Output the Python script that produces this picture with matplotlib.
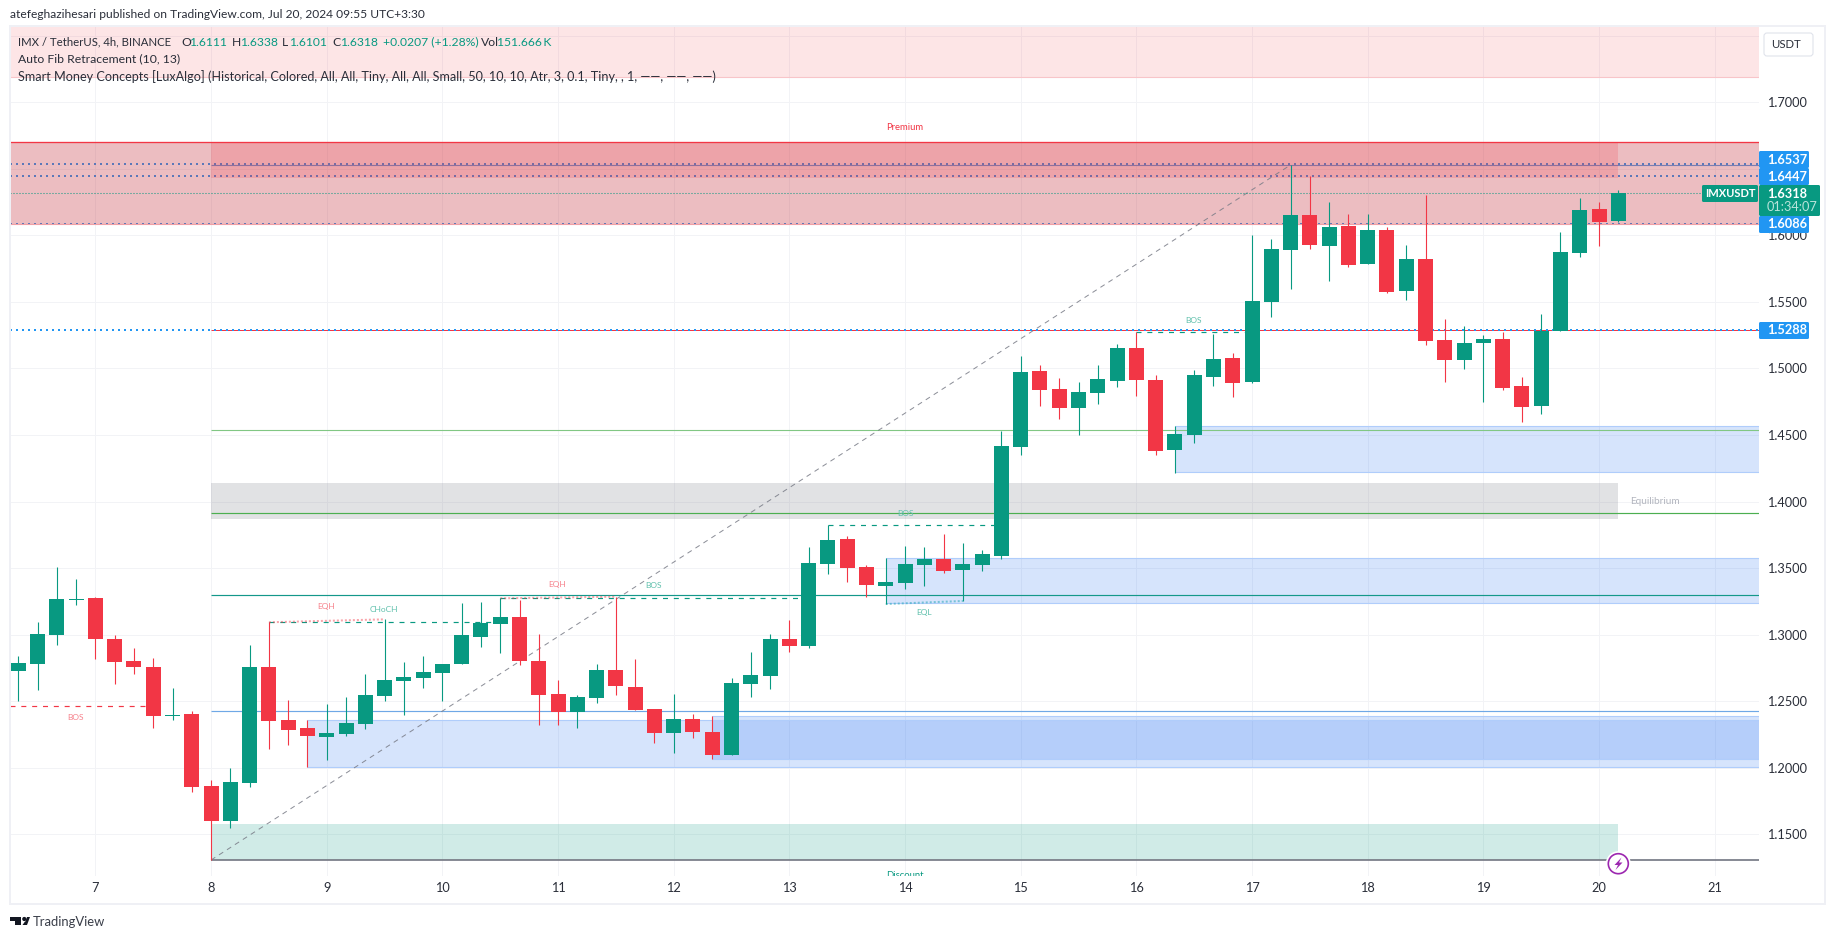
import matplotlib
matplotlib.use("Agg")
import matplotlib.pyplot as plt
from matplotlib.patches import Rectangle, FancyBboxPatch, Polygon, Circle

plt.rcParams['font.family'] = ['Lato', 'DejaVu Sans']
plt.rcParams['lines.scale_dashes'] = False

# ---------- data ----------
opens = [1.2727,1.2779,1.2997,1.3260,1.3275,1.2967,1.2802,1.2757,1.2391,1.2404,1.1863,1.1600,1.1885,1.2757,1.2359,1.2299,1.2231,1.2253,1.2329,1.2539,
         1.2652,1.2674,1.2712,1.2779,1.2982,1.3080,1.3132,1.2802,1.2554,1.2419,1.2524,1.2734,1.2607,1.2441,1.2261,1.2366,1.2268,1.2096,1.2629,1.2689,
         1.2967,1.2915,1.3531,1.3719,1.3508,1.3365,1.3388,1.3523,1.3569,1.3486,1.3524,1.3591,1.4410,1.4981,1.4846,1.4703,1.4816,1.4906,1.5154,1.4914,
         1.4388,1.4500,1.4936,1.5079,1.4899,1.5500,1.5890,1.6153,1.5920,1.6071,1.5785,1.6041,1.5582,1.5823,1.5214,1.5064,1.5192,1.5222,1.4869,1.4718,
         1.5282,1.5868,1.6198,1.6111]
highs = [1.2839,1.3095,1.3508,1.3418,1.3283,1.2997,1.2900,1.2824,1.2599,1.2426,1.1908,1.1998,1.2922,1.3095,1.2509,1.2359,1.2479,1.2531,1.2704,1.3115,
         1.2794,1.2839,1.2779,1.3238,1.3245,1.3273,1.3260,1.3005,1.2659,1.2546,1.2779,1.3285,1.2817,1.2441,1.2554,1.2404,1.2389,1.2674,1.2870,1.3005,
         1.3110,1.3659,1.3824,1.3741,1.3523,1.3576,1.3666,1.3658,1.3756,1.3689,1.3636,1.4530,1.5094,1.5026,1.4929,1.4898,1.5026,1.5184,1.5271,1.4951,
         1.4568,1.4989,1.5259,1.5117,1.6003,1.5973,1.6529,1.6446,1.6251,1.6161,1.6161,1.6063,1.5928,1.6304,1.5372,1.5319,1.5252,1.5274,1.4936,1.5410,
         1.6026,1.6281,1.6251,1.6338]
lows = [1.2501,1.2584,1.2922,1.3223,1.2817,1.2629,1.2704,1.2299,1.2359,1.1818,1.1307,1.1547,1.1855,1.2141,1.2171,1.2006,1.2058,1.2238,1.2291,1.2501,
        1.2396,1.2599,1.2501,1.2779,1.2907,1.2862,1.2772,1.2321,1.2321,1.2299,1.2486,1.2546,1.2434,1.2186,1.2111,1.2223,1.2066,1.2096,1.2531,1.2592,
        1.2870,1.2900,1.3456,1.3396,1.3283,1.3230,1.3343,1.3365,1.3463,1.3253,1.3478,1.3569,1.4350,1.4718,1.4620,1.4500,1.4733,1.4861,1.4793,1.4350,
        1.4215,1.4440,1.4869,1.4786,1.4891,1.5387,1.5597,1.5898,1.5658,1.5763,1.5785,1.5567,1.5515,1.5177,1.4899,1.4996,1.4748,1.4839,1.4598,1.4658,
        1.5282,1.5838,1.5920,1.6101]
closes = [1.2787,1.3005,1.3268,1.3268,1.2967,1.2794,1.2757,1.2389,1.2396,1.1855,1.1600,1.1893,1.2757,1.2351,1.2283,1.2238,1.2261,1.2336,1.2546,1.2659,
          1.2682,1.2719,1.2779,1.2997,1.3087,1.3132,1.2802,1.2546,1.2419,1.2531,1.2734,1.2614,1.2434,1.2261,1.2366,1.2268,1.2096,1.2637,1.2697,1.2967,
          1.2915,1.3539,1.3711,1.3501,1.3373,1.3395,1.3531,1.3568,1.3478,1.3531,1.3606,1.4418,1.4974,1.4838,1.4703,1.4823,1.4921,1.5154,1.4914,1.4380,
          1.4508,1.4951,1.5072,1.4891,1.5507,1.5898,1.6153,1.5928,1.6063,1.5778,1.6041,1.5575,1.5823,1.5207,1.5064,1.5192,1.5222,1.4854,1.4711,1.5282,
          1.5875,1.6191,1.6101,1.6318]

day_labels = [str(d) for d in range(7, 22)]
day_ticks = [4 + 6 * k for k in range(15)]
price_ticks = [1.15, 1.20, 1.25, 1.30, 1.35, 1.40, 1.45, 1.50, 1.55, 1.60, 1.65, 1.70, 1.75]
hidden_ticks = [1.65, 1.75]

# order-block zones: start candle, top, bottom
ob_starts = [15, 36, 45, 60]
ob_tops = [1.2357, 1.2387, 1.3573, 1.4565]
ob_bottoms = [1.2008, 1.2068, 1.3236, 1.4220]

# ---------- layout ----------
W, H = 1835, 939
AL, AR, AT, AB = 10, 1759, 27, 876
X0, DX = 18.3, 19.277
Y115, PXPER = 834.3, 1331.0
def p_of(y):
    return 1.15 + (Y115 - y) / PXPER
def i_of(x):
    return (x - X0) / DX

GREEN, RED, BLUE = '#089981', '#F23645', '#2196F3'
GRID = '#f2f3f6'
BORDER = '#eff0f5'
TXT = '#2a2e39'
px = 0.72

fig = plt.figure(figsize=(W / 100, H / 100), dpi=100, facecolor='white')
ax = fig.add_axes([AL / W, 1 - AB / H, (AR - AL) / W, (AB - AT) / H])
xl, xr = i_of(AL), i_of(AR)
ax.set_xlim(xl, xr)
ax.set_ylim(p_of(AB), p_of(AT))
for s in ax.spines.values():
    s.set_visible(False)
ax.set_axisbelow(True)
ax.grid(True, color=GRID, lw=px, zorder=0)
ax.set_xticks(day_ticks)
ax.set_xticklabels(day_labels)
ax.yaxis.tick_right()
ax.set_yticks(price_ticks)
ax.set_yticklabels(['' if t in hidden_ticks else f'{t:.4f}' for t in price_ticks])
ax.tick_params(length=0, labelsize=9.2, labelcolor=TXT)
ax.tick_params(axis='x', pad=4.5)
ax.tick_params(axis='y', pad=5.6)

def hline(p, a, b, **kw):
    ax.plot([a, b], [p, p], solid_capstyle='butt', **kw)

DOT = (0, (1.44, 2.88))
# lines that sit under the translucent zones
hline(1.6537, xl, xr, color=BLUE, lw=1.44, ls=DOT, zorder=1)
hline(1.6447, xl, xr, color=BLUE, lw=1.44, ls=DOT, zorder=1)
hline(1.6086, xl, xr, color=BLUE, lw=1.44, ls=DOT, zorder=1)
hline(1.6526, 10, xr, color='#4f9fe8', lw=0.8, zorder=1)

def zone(a, b, top, bottom, color, alpha, z=2):
    ax.add_patch(Rectangle((a, bottom), b - a, top - bottom, fc=color, alpha=alpha, lw=0, zorder=z))

zone(xl, xr, p_of(AT), p_of(76.7), RED, 0.13)
hline(p_of(76.7), xl, xr, color='#f8c5c9', lw=0.8, zorder=2)
zone(xl, xr, 1.6700, 1.6085, '#c9424e', 0.35)
zone(10, 83, 1.6700, 1.6433, RED, 0.19)
hline(1.6700, xl, xr, color=RED, lw=0.95, zorder=2.2)
hline(1.6085, xl, xr, color='#f0a0a6', lw=0.8, zorder=1.9)
zone(10, 83, 1.4140, 1.3869, '#787B86', 0.22)
zone(10, 83, 1.1577, 1.1307, GREEN, 0.19)

for s0, t, b in zip(ob_starts, ob_tops, ob_bottoms):
    zone(s0, xr, t, b, '#2771f4', 0.19)
    hline(t, s0, xr, color='#b0cdfb', lw=0.8, zorder=2.1)
    hline(b, s0, xr, color='#b0cdfb', lw=0.8, zorder=2.1)

# structure levels
hline(1.5291, 10, xr, color=RED, lw=0.72, zorder=2.3)
hline(1.5288, xl, xr, color=BLUE, lw=1.44, ls=DOT, zorder=2.35)
hline(1.4535, 10, xr, color='#81c784', lw=0.8, zorder=2.3)
hline(1.3916, 10, xr, color='#4caf50', lw=0.85, zorder=2.3)
hline(1.3296, 10, xr, color='#14988a', lw=0.85, zorder=2.3)
hline(1.2424, 10, xr, color='#6fa8e6', lw=0.85, zorder=2.3)
hline(1.1307, 10, xr, color='#787B86', lw=1.25, zorder=2.3)

DASH = (0, (3.6, 4.2))
hline(1.2462, xl, 7, color=RED, lw=0.85, ls=DASH, zorder=2.4)
hline(1.3093, 13, 25, color=GREEN, lw=0.85, ls=DASH, zorder=2.4)
hline(1.3273, 25, 41, color=GREEN, lw=0.85, ls=DASH, zorder=2.4)
hline(1.3824, 42, 51, color=GREEN, lw=0.85, ls=DASH, zorder=2.4)
hline(1.5271, 58, 64, color=GREEN, lw=0.85, ls=DASH, zorder=2.4)

EQD = (0, (1.44, 1.44))
ax.plot([13, 19], [1.3093, 1.3115], color=RED, alpha=0.45, lw=1.44, ls=EQD, zorder=2.4)
ax.plot([25, 31], [1.3273, 1.3285], color=RED, alpha=0.45, lw=1.44, ls=EQD, zorder=2.4)
ax.plot([45, 49], [1.3230, 1.3253], color='#26a6b8', alpha=0.55, lw=1.44, ls=EQD, zorder=2.4)

# fib trend line
ax.plot([10, 66], [1.1307, 1.6529], color='#787B86', alpha=0.85, lw=0.72, ls=(0, (3.6, 3.2)), zorder=2.5)

# current price line
hline(1.6318, xl, i_of(1702), color=GREEN, lw=0.75, ls=(0, (0.72, 1.44)), zorder=2.6)

# candles
idx = list(range(len(opens)))
cols = [GREEN if c >= o else RED for o, c in zip(opens, closes)]
ax.vlines(idx, lows, highs, colors=cols, lw=0.8, zorder=3)
ax.bar(idx, [abs(c - o) for o, c in zip(opens, closes)], bottom=[min(o, c) for o, c in zip(opens, closes)],
       width=15.0 / DX, color=cols, lw=0, zorder=3.1)

ax.text(46, p_of(875), 'Discount', color=GREEN, fontsize=6.8, ha='center', va='center', clip_on=True, zorder=4)

# ---------- pixel overlay ----------
ov = fig.add_axes([0, 0, 1, 1], zorder=10)
ov.set_xlim(0, W)
ov.set_ylim(H, 0)
ov.axis('off')
ov.patch.set_alpha(0)

def t(x, y, s, color=TXT, size=9, ha='left', va='center', **kw):
    ov.text(x, y, s, color=color, fontsize=size, ha=ha, va=va, **kw)

# frame
ov.add_patch(Rectangle((AL - 0.5, AT - 1), 1825 - AL, 904 - AT + 1, fc='none', ec=BORDER, lw=2 * px))

# header
t(10, 14.5, 'atefeghazihesari published on TradingView.com, Jul 20, 2024 09:55 UTC+3:30', size=8.65)
LS = 8.7
t(18, 42, 'IMX / TetherUS, 4h, BINANCE', size=8.2)
row = [(181, 'O', TXT), (189, '1.6111', GREEN), (232, 'H', TXT), (240, '1.6338', GREEN), (282, 'L', TXT),
       (289, '1.6101', GREEN), (332, 'C', TXT), (340, '1.6318', GREEN), (383, '+0.0207 (+1.28%)', GREEN),
       (481, 'Vol', TXT), (497, '151.666\u2009K', GREEN)]
for x, s, c in row:
    t(x, 42, s, color=c, size=LS)
t(18, 59, 'Auto Fib Retracement (10, 13)', size=8.8)
t(18, 76.5, 'Smart Money Concepts [LuxAlgo] (Historical, Colored, All, All, Tiny, All, All, Small, 50, 10, 10, Atr, 3, 0.1, Tiny, , 1, \u2014\u2014, \u2014\u2014, \u2014\u2014)', size=9.05)

# USDT button
ov.add_patch(FancyBboxPatch((1764, 33), 49, 23, boxstyle='round,pad=0,rounding_size=3', fc='white', ec='#e0e3eb', lw=0.8))
t(1786, 44.5, 'USDT', size=8.2, ha='center')

# tiny labels
PINK, MINT = '#f7828c', '#5fc0ac'
t(905, 127.5, 'Premium', color=RED, size=6.8, ha='center')
t(1655, 501, 'Equilibrium', color='#b2b5be', size=7.2, ha='center')
t(75.7, 718, 'BOS', color=PINK, size=6.0, ha='center')
t(326, 606, 'EQH', color=PINK, size=6.0, ha='center')
t(384.3, 609.7, 'CHoCH', color=MINT, size=6.0, ha='center')
t(557.3, 584.3, 'EQH', color=PINK, size=6.0, ha='center')
t(653.7, 585.7, 'BOS', color=MINT, size=6.0, ha='center')
t(905, 514, 'BOS', color=MINT, size=6.0, ha='center')
t(923.7, 612.7, 'EQL', color=MINT, size=6.0, ha='center')
t(1193.7, 320.7, 'BOS', color=MINT, size=6.0, ha='center')

# price tags
def box(x0, y0, x1, y1, color):
    ov.add_patch(FancyBboxPatch((x0, y0), x1 - x0, y1 - y0, boxstyle='round,pad=0,rounding_size=1.5', fc=color, lw=0))
for y0, y1, cy, s in [(151, 168, 159.5, '1.6537'), (168, 185, 176.7, '1.6447'), (216, 233, 224.5, '1.6086'), (322, 339, 330.5, '1.5288')]:
    box(1759, y0, 1809, y1, BLUE)
    t(1767, cy, s, color='white', size=9.2, weight='bold')
box(1759, 185, 1820, 216, GREEN)
t(1767, 193.7, '1.6318', color='white', size=9.2, weight='bold')
t(1767, 207.3, '01:34:07', color='#b9e3da', size=9.2)
box(1702, 185, 1758, 202, GREEN)
t(1730, 193.7, 'IMXUSDT', color='white', size=8.0, ha='center', weight='bold')

# lightning marker
ov.add_patch(Circle((1618.3, 863.7), 12.5, fc='white', ec='none'))
ov.add_patch(Circle((1618.3, 863.7), 10, fc='white', ec='#9c27b0', lw=1.2))
ov.add_patch(Polygon([(1621.5, 857.5), (1614.5, 865), (1618, 865), (1615.5, 870), (1622.5, 862.5), (1619, 862.5)], fc='#9c27b0', lw=0))

# TradingView logo
ov.add_patch(Polygon([(10, 917), (21, 917), (21, 925), (15, 925), (15, 921), (10, 921)], fc='#131722', lw=0))
ov.add_patch(Circle((24.3, 919), 2.1, fc='#131722', lw=0))
ov.add_patch(Polygon([(24, 925), (27, 917), (30, 917), (27, 925)], fc='#131722', lw=0))
ov.add_patch(Polygon([(22.5, 925), (27, 925), (25, 921.5)], fc='#131722', lw=0))
t(33, 921.5, 'TradingView', color='#3a3e49', size=9.4)

fig.savefig('out.png', dpi=100, facecolor='white')
